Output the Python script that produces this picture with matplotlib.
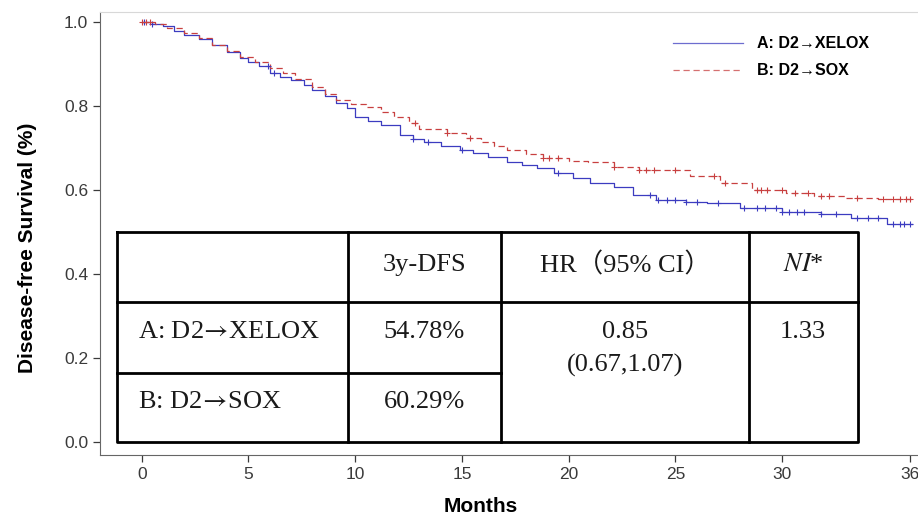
import matplotlib
matplotlib.use('Agg')
import matplotlib.pyplot as plt
import numpy as np

plt.rcParams['mathtext.fontset'] = 'stix'

# Kaplan-Meier step points (months, survival)
time_a = [0, 0.5, 1.0, 1.5, 2.0, 2.7, 3.3, 4.0, 4.6, 5.0, 5.5, 6.0, 6.5, 7.0, 7.6, 8.0, 8.6, 9.1,
          9.6, 10.0, 10.6, 11.2, 12.1, 12.7, 13.2, 14.0, 14.9, 15.5, 16.2, 17.1, 17.8, 18.5, 19.3,
          20.2, 21.0, 22.1, 23.0, 24.1, 25.5, 26.5, 28.0, 30.0, 31.8, 33.2, 34.9, 36.1]
surv_a = [1.0, 0.995, 0.99, 0.98, 0.97, 0.96, 0.945, 0.928, 0.915, 0.905, 0.895, 0.878, 0.87, 0.862,
          0.85, 0.838, 0.825, 0.807, 0.795, 0.774, 0.765, 0.755, 0.731, 0.722, 0.714, 0.705, 0.695,
          0.688, 0.679, 0.667, 0.66, 0.652, 0.64, 0.628, 0.617, 0.607, 0.588, 0.576, 0.572, 0.569,
          0.557, 0.548, 0.543, 0.533, 0.519, 0.519]
time_b = [0, 0.6, 1.2, 2.0, 2.7, 3.3, 4.0, 4.6, 5.3, 6.0, 6.6, 7.2, 8.0, 8.6, 9.1, 9.8, 10.5, 11.2,
          11.8, 12.5, 13.0, 14.3, 15.2, 15.9, 16.5, 17.1, 18.0, 18.8, 20.0, 20.9, 22.1, 23.3, 25.7,
          27.1, 28.6, 30.2, 31.5, 33.0, 34.5, 36.1]
surv_b = [1.0, 0.995, 0.985, 0.975, 0.962, 0.945, 0.932, 0.918, 0.905, 0.89, 0.878, 0.865, 0.845,
          0.83, 0.815, 0.805, 0.798, 0.785, 0.774, 0.76, 0.745, 0.735, 0.725, 0.714, 0.705, 0.695,
          0.685, 0.676, 0.67, 0.667, 0.655, 0.648, 0.633, 0.617, 0.6, 0.593, 0.587, 0.581, 0.578, 0.576]

# censoring times
cens_a = [0.1, 0.5, 5.9, 6.2, 12.7, 13.4, 15.0, 19.5, 23.8, 24.2, 24.6, 25.0, 25.5, 26.0, 27.0, 28.2,
          28.8, 29.2, 29.7, 30.0, 30.3, 30.7, 31.0, 31.8, 32.5, 33.5, 34.0, 34.5, 35.2, 35.5, 35.7, 36.0]
cens_b = [0.0, 0.2, 0.4, 12.8, 14.3, 15.4, 18.8, 19.1, 19.5, 22.1, 23.3, 23.6, 24.0, 25.0, 26.8,
          27.3, 28.8, 29.0, 29.3, 30.0, 30.6, 31.2, 31.8, 32.2, 33.5, 34.7, 35.2, 35.5, 35.8, 36.0]

labels = ['A: D2\u2192XELOX', 'B: D2\u2192SOX']
x_ticks = [0, 5, 10, 15, 20, 25, 30, 36]
y_ticks = [0.0, 0.2, 0.4, 0.6, 0.8, 1.0]

tbl_header = ['', '3y-DFS', 'HR\uff0895% CI\uff09', '$\\mathit{NI}$*']
tbl_rows = ['A: D2$\\!\\rightarrow\\!$XELOX', 'B: D2$\\!\\rightarrow\\!$SOX']
tbl_dfs = ['54.78%', '60.29%']
tbl_hr = '0.85'
tbl_ci = '(0.67,1.07)'
tbl_ni = '1.33'

col_a = '#3c3cc0'
col_b = '#c84040'


def step_at(times, survs, t):
    idx = np.searchsorted(times, t, side='right') - 1
    return np.array(survs)[np.clip(idx, 0, len(survs) - 1)]


fig = plt.figure(figsize=(9.18, 5.18), dpi=100)
ax = fig.add_axes([0.109, 0.1216, 0.891, 0.855])

ax.step(time_a, surv_a, where='post', color=col_a, lw=0.9)
ax.step(time_b, surv_b, where='post', color=col_b, lw=0.9, dashes=(5, 3))
ax.plot(cens_a, step_at(time_a, surv_a, cens_a), '+', color=col_a, ms=5, mew=0.8)
ax.plot(cens_b, step_at(time_b, surv_b, cens_b), '+', color=col_b, ms=5, mew=0.8)

ax.set_xlim(-1.95, 36.36)
ax.set_ylim(-0.031, 1.024)
ax.set_xticks(x_ticks)
ax.set_yticks(y_ticks)
ax.set_yticklabels(['%.1f' % v for v in y_ticks])
ax.tick_params(colors='#3a3a3a', labelsize=12.5, length=5, width=0.9, direction='out')
for lab in ax.get_xticklabels() + ax.get_yticklabels():
    lab.set_family('Liberation Sans')
ax.spines['right'].set_visible(False)
ax.spines['top'].set_color('#d8d8d8')
ax.spines['left'].set_color('#666666')
ax.spines['bottom'].set_color('#666666')

fig.text(481 / 918, 1 - 506 / 518, 'Months', ha='center', va='center', fontsize=15,
         fontweight='bold', family='Liberation Sans')
fig.text(28 / 918, 1 - 248 / 518, 'Disease-free Survival (%)', ha='center', va='center',
         rotation=90, fontsize=15, fontweight='bold', family='Liberation Sans')

# legend drawn by hand at the upper right
for i, (lab, col) in enumerate(zip(labels, [col_a, col_b])):
    yy = [0.930, 0.869][i]
    kw = {} if i == 0 else {'dashes': (5, 3)}
    ax.plot([0.700, 0.786], [yy, yy], transform=ax.transAxes, color=col, lw=0.9, alpha=0.75, **kw)
    ax.text(0.803, yy, lab, transform=ax.transAxes, va='center', ha='left', fontsize=11.5,
            fontweight='bold', family=['Liberation Sans', 'DejaVu Sans'])

# table box on top of the curves
xs = [-1.16, 9.66, 16.83, 28.43, 33.56]
ys = [0.5, 0.333, 0.164, 0.0]
ax.fill_between([xs[0], xs[-1]], ys[-1], ys[0], color='white', zorder=5)
lk = dict(color='black', lw=2.0, zorder=6, solid_capstyle='projecting')
ax.plot([xs[0], xs[-1], xs[-1], xs[0], xs[0]], [ys[0], ys[0], ys[-1], ys[-1], ys[0]], **lk)
for xv in xs[1:4]:
    ax.plot([xv, xv], [ys[0], ys[-1]], **lk)
ax.plot([xs[0], xs[-1]], [ys[1], ys[1]], **lk)
ax.plot([xs[0], xs[2]], [ys[2], ys[2]], **lk)

serif = ['Liberation Serif', 'DejaVu Serif', 'Noto Sans CJK SC']
tk = dict(fontsize=19, family=serif, va='center', zorder=7, color='#1a1a1a')
cx = [13.23, 22.64, 30.97]
for x_c, s in zip(cx, tbl_header[1:]):
    ax.text(x_c, 0.421, s, ha='center', **tk)
ax.text(-0.17, 0.262, tbl_rows[0], ha='left', **tk)
ax.text(-0.17, 0.095, tbl_rows[1], ha='left', **tk)
ax.text(cx[0], 0.262, tbl_dfs[0], ha='center', **tk)
ax.text(cx[0], 0.095, tbl_dfs[1], ha='center', **tk)
ax.text(cx[1], 0.262, tbl_hr, ha='center', **tk)
ax.text(cx[1], 0.183, tbl_ci, ha='center', **tk)
ax.text(cx[2], 0.262, tbl_ni, ha='center', **tk)

fig.savefig('out.png', dpi=100)
